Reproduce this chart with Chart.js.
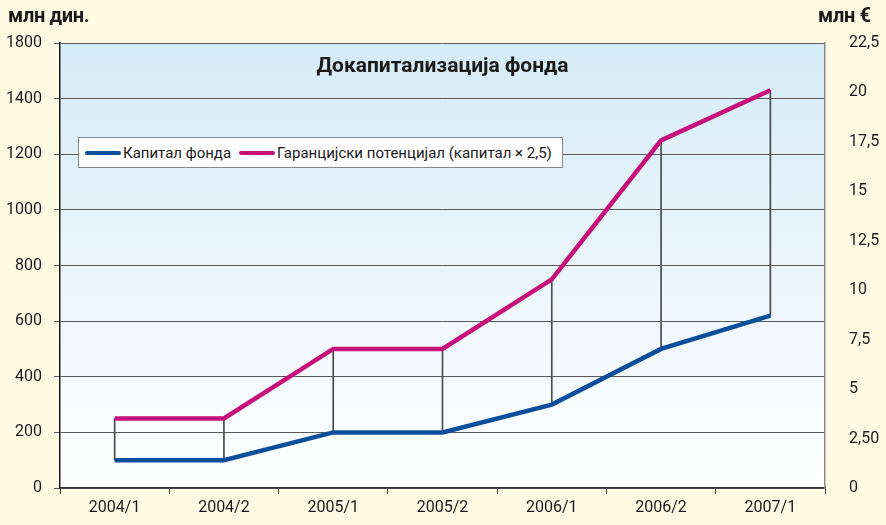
<!DOCTYPE html>
<html lang="sr">
<head>
    <meta charset="UTF-8">
    <title>Докапитализација фонда</title>
    <script src="https://cdn.jsdelivr.net/npm/chart.js"></script>
    <style>
        html, body {
            margin: 0;
            padding: 0;
            background: #fefbe5;
            font-family: Roboto, "Noto Sans", sans-serif;
        }
        .wrap {
            position: relative;
            width: 886px;
            height: 525px;
        }
        .unit {
            position: absolute;
            top: 3px;
            font-weight: bold;
            font-size: 20px;
            color: #1a1a1a;
            letter-spacing: -0.3px;
        }
        .chart-title {
            position: absolute;
            left: 60px;
            width: 765px;
            top: 53px;
            text-align: center;
            font-weight: bold;
            font-size: 21px;
            color: #1a1a1a;
        }
        .legend {
            position: absolute;
            left: 78px;
            top: 137px;
            width: 483px;
            height: 29px;
            background: #fff;
            border: 1px solid #8a8a8a;
            display: flex;
            align-items: center;
            font-size: 15px;
            color: #1a1a1a;
            white-space: nowrap;
        }
        .legend .swatch {
            display: inline-block;
            width: 36px;
            height: 4px;
            border-radius: 2px;
            margin: 0 2px 0 6px;
        }
    </style>
</head>
<body>
<div class="wrap">
    <canvas id="chart" width="886" height="525"></canvas>
    <div class="unit" style="left: 8px;">млн дин.</div>
    <div class="unit" style="left: 818px;">млн €</div>
    <div class="chart-title">Докапитализација фонда</div>
    <div class="legend">
        <span class="swatch" style="background:#0b4f9c"></span>Капитал фонда
        <span class="swatch" style="background:#c6117b; margin-left:8px"></span>Гаранцијски потенцијал (капитал × 2,5)
    </div>
</div>

<script>
    // data
    const periods = ['2004/1', '2004/2', '2005/1', '2005/2', '2006/1', '2006/2', '2007/1'];
    const capital = [100, 100, 200, 200, 300, 500, 620];
    const guarantee = [250, 250, 500, 500, 750, 1250, 1430];
    const leftTickLabels = ['0', '200', '400', '600', '800', '1000', '1200', '1400', '1800'];
    const rightTickLabels = ['0', '2,50', '5', '7,5', '10', '12,5', '15', '17,5', '20', '22,5'];

    const dropLines = periods.map((p, i) => [capital[i], guarantee[i]]);

    const plotBackground = {
        id: 'plotBackground',
        beforeDraw(chart) {
            const ctx = chart.ctx;
            const a = chart.chartArea;
            ctx.save();
            ctx.fillStyle = '#fefbe5';
            ctx.fillRect(0, 0, chart.width, chart.height);
            const g = ctx.createLinearGradient(0, a.top, 0, a.bottom);
            g.addColorStop(0, '#d5ebf7');
            g.addColorStop(1, '#ffffff');
            ctx.fillStyle = g;
            ctx.fillRect(a.left, a.top, a.right - a.left, a.bottom - a.top);
            ctx.restore();
        }
    };

    const font = { family: 'Roboto, "Noto Sans", sans-serif', size: 16 };

    new Chart(document.getElementById('chart').getContext('2d'), {
        data: {
            labels: periods,
            datasets: [
                {
                    type: 'line',
                    label: 'Капитал фонда',
                    data: capital,
                    borderColor: '#0b4f9c',
                    borderWidth: 4.5,
                    pointRadius: 0,
                    tension: 0,
                    yAxisID: 'y',
                    order: 1
                },
                {
                    type: 'line',
                    label: 'Гаранцијски потенцијал (капитал × 2,5)',
                    data: guarantee,
                    borderColor: '#c6117b',
                    borderWidth: 4.5,
                    pointRadius: 0,
                    tension: 0,
                    yAxisID: 'y',
                    order: 2
                },
                {
                    type: 'bar',
                    label: 'drop',
                    data: dropLines,
                    backgroundColor: '#4a4a4a',
                    barThickness: 1,
                    yAxisID: 'y',
                    order: 3
                }
            ]
        },
        options: {
            responsive: false,
            animation: false,
            layout: { padding: { top: 43, left: 0, right: 0, bottom: 0 } },
            plugins: {
                legend: { display: false },
                tooltip: { enabled: false }
            },
            scales: {
                x: {
                    type: 'category',
                    offset: true,
                    grid: {
                        offset: true,
                        drawOnChartArea: false,
                        color: '#333',
                        tickLength: 6
                    },
                    border: { color: '#333', width: 1.5 },
                    ticks: { color: '#1a1a1a', font: font, padding: 4, maxRotation: 0 },
                    afterFit: s => { s.height = 37; }
                },
                y: {
                    position: 'left',
                    min: 0,
                    max: 1600,
                    grid: { color: '#5a5a5a', lineWidth: 1, tickLength: 6 },
                    border: { color: '#1a1a1a', width: 1.5 },
                    ticks: {
                        stepSize: 200,
                        color: '#1a1a1a',
                        font: font,
                        padding: 12,
                        callback: (v, i) => leftTickLabels[i]
                    },
                    afterFit: s => { s.width = 60; }
                },
                y1: {
                    position: 'right',
                    min: 0,
                    max: 22.5,
                    grid: { display: false },
                    border: { color: '#8a8a8a', width: 1.5 },
                    ticks: {
                        stepSize: 2.5,
                        color: '#1a1a1a',
                        font: font,
                        padding: 16,
                        callback: (v, i) => rightTickLabels[i]
                    },
                    afterFit: s => { s.width = 61; }
                }
            }
        },
        plugins: [plotBackground]
    });
</script>
</body>
</html>
